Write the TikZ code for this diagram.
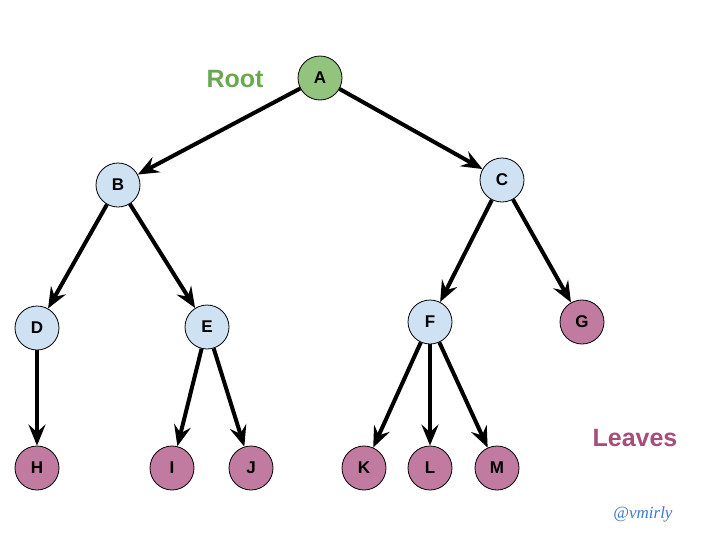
\documentclass[tikz,border=0pt]{standalone}
\usepackage{fontspec}
\setmainfont{Liberation Sans}
\newfontfamily\sigfont{Liberation Serif}
\usetikzlibrary{arrows.meta}
\definecolor{inner}{HTML}{CFE2F3}
\definecolor{rootc}{HTML}{93C47D}
\definecolor{leafc}{HTML}{C27BA0}
\definecolor{roottxt}{HTML}{6AA84F}
\definecolor{leaftxt}{HTML}{A64D79}
\definecolor{sigtxt}{HTML}{3C78D8}
\begin{document}
\begin{tikzpicture}[x=1pt,y=-1pt,
  tnode/.style={circle,draw=black,line width=0.8pt,minimum size=44pt,inner sep=0pt,font=\fontsize{17}{17}\selectfont\bfseries},
  innernode/.style={tnode,fill=inner},
  rootnode/.style={tnode,fill=rootc},
  leafnode/.style={tnode,fill=leafc},
  edge/.style={line width=4pt,-{Stealth[length=21pt,width=17pt,inset=7.5pt]}},
  lbl/.style={font=\fontsize{25}{25}\selectfont\bfseries}]
\useasboundingbox (0,0) rectangle (715,533);
\node[rootnode] (A) at (320,78) {A};
\node[innernode] (B) at (118,185) {B};
\node[innernode] (C) at (502,180) {C};
\node[innernode] (D) at (37,328) {D};
\node[innernode] (E) at (207,327) {E};
\node[innernode] (F) at (430,322) {F};
\node[leafnode] (G) at (582,322) {G};
\node[leafnode] (H) at (37,468) {H};
\node[leafnode] (I) at (172,468) {I};
\node[leafnode] (J) at (251,468) {J};
\node[leafnode] (K) at (364,468) {K};
\node[leafnode] (L) at (430,468) {L};
\node[leafnode] (M) at (497,468) {M};
\node[lbl,text=roottxt] (rootlbl) at (235,79) {Root};
\node[lbl,text=leaftxt] (leaflbl) at (635,438) {Leaves};
\node[text=sigtxt,font=\sigfont\itshape\fontsize{17}{17}\selectfont] (sig) at (643,514) {@vmirly};
\draw[edge] (A) -- (B);
\draw[edge] (A) -- (C);
\draw[edge] (B) -- (D);
\draw[edge] (B) -- (E);
\draw[edge] (C) -- (F);
\draw[edge] (C) -- (G);
\draw[edge] (D) -- (H);
\draw[edge] (E) -- (I);
\draw[edge] (E) -- (J);
\draw[edge] (F) -- (K);
\draw[edge] (F) -- (L);
\draw[edge] (F) -- (M);
\end{tikzpicture}
\end{document}
